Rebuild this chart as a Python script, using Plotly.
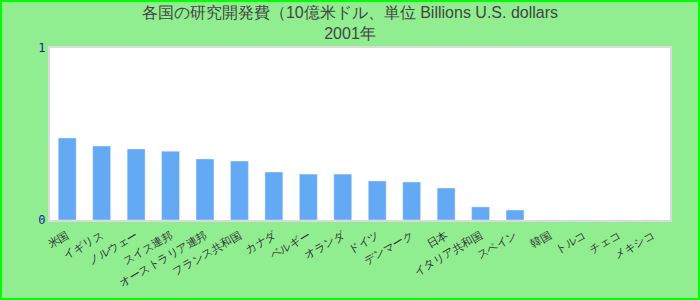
import plotly.graph_objects as go

categories = ["米国", "イギリス", "ノルウェー", "スイス連邦", "オーストラリア連邦", "フランス共和国",
              "カナダ", "ベルギー", "オランダ", "ドイツ", "デンマーク", "日本",
              "イタリア共和国", "スペイン", "韓国", "トルコ", "チェコ", "メキシコ"]
values = [0.477, 0.43, 0.413, 0.40, 0.355, 0.343, 0.279, 0.267, 0.267, 0.227, 0.221, 0.186,
          0.076, 0.058, 0, 0, 0, 0]
y_ticks = [0, 1]
title_text = "各国の研究開発費（10億米ドル、単位 Billions U.S. dollars<br>2001年"

L, R, T, B = 50, 30, 48, 80
W, H = 700, 300
pw, ph = W - L - R, H - T - B

fig = go.Figure(go.Bar(x=categories, y=values, marker_color="#63a9f4", width=0.52))
fig.update_layout(
    width=W, height=H,
    margin=dict(l=L, r=R, t=T, b=B),
    paper_bgcolor="#90ee90", plot_bgcolor="white",
    title=dict(text=title_text, x=0.5, xanchor="center", y=0.94, yanchor="top",
               font=dict(family="Liberation Sans, Arial, sans-serif", size=16, color="#444")),
    showlegend=False,
    font=dict(family="Liberation Sans, Arial, sans-serif"),
    shapes=[dict(type="rect", xref="paper", yref="paper",
                 x0=-L / pw + 1 / pw, x1=1 + R / pw - 1 / pw,
                 y0=-B / ph + 1 / ph, y1=1 + T / ph - 1 / ph,
                 line=dict(color="#00ff00", width=2), layer="below")],
)
fig.update_xaxes(tickangle=-30, showline=True, mirror=True, linecolor="#dadada", linewidth=2,
                 tickfont=dict(size=11, color="#333"), showgrid=False, ticklabelstandoff=3)
fig.update_yaxes(range=[0, 1], tickvals=y_ticks, showgrid=False, zeroline=False,
                 showline=True, mirror=True, linecolor="#dadada", linewidth=2,
                 tickfont=dict(family="DejaVu Sans Mono, monospace", size=12, color="#1a1aa0"))
fig.write_html("out.html")
